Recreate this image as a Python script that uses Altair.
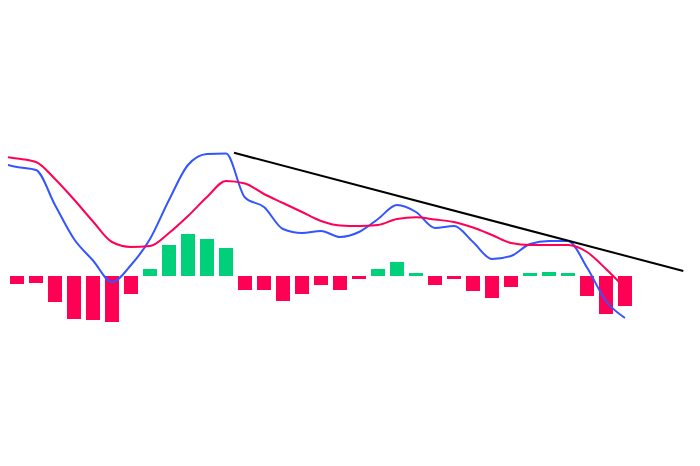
import altair as alt
import pandas as pd

# Histogram (MACD - signal), one value per bar
hist = [-0.06, -0.08, -0.07, -0.26, -0.43, -0.44, -0.46, -0.18, 0.07, 0.31,
        0.42, 0.37, 0.28, -0.14, -0.14, -0.25, -0.18, -0.09, -0.14, -0.03,
        0.07, 0.14, 0.03, -0.09, -0.03, -0.15, -0.22, -0.11, 0.03, 0.04,
        0.03, -0.20, -0.38, -0.30]

# MACD line (blue)
macd = [1.135, 1.09, 1.06, 0.71, 0.37, 0.155, -0.06, 0.11, 0.37, 0.76,
        1.11, 1.22, 1.225, 0.785, 0.69, 0.47, 0.43, 0.45, 0.39, 0.44,
        0.57, 0.71, 0.64, 0.48, 0.50, 0.34, 0.17, 0.20, 0.32, 0.35,
        0.35, 0.085, -0.25, -0.42]

# Signal line (red)
signal = [1.20, 1.175, 1.14, 0.97, 0.765, 0.545, 0.34, 0.29, 0.30, 0.43,
          0.60, 0.79, 0.95, 0.925, 0.82, 0.73, 0.64, 0.55, 0.505, 0.50,
          0.51, 0.57, 0.587, 0.565, 0.54, 0.485, 0.41, 0.33, 0.31, 0.31,
          0.31, 0.24, 0.07, -0.12]

# Trend line endpoints (index, value)
trend_x = [12.42, 36.07]
trend_y = [1.232, 0.05]

idx = list(range(len(hist)))
bars = pd.DataFrame({"i": idx, "h": hist, "sign": ["pos" if v > 0 else "neg" for v in hist]})
lines = pd.DataFrame({"i": idx * 2, "v": macd + signal,
                      "series": ["MACD"] * len(macd) + ["Signal"] * len(signal)})
trend = pd.DataFrame({"i": trend_x, "v": trend_y})

xscale = alt.Scale(domain=[10 / 19, 694 / 19], nice=False, zero=False, padding=0)
yscale = alt.Scale(domain=[-1.72, 2.68], nice=False, zero=False, padding=0)

bar_layer = alt.Chart(bars).mark_bar(size=14, clip=True).encode(
    x=alt.X("i:Q", scale=xscale, axis=None),
    y=alt.Y("h:Q", scale=yscale, axis=None),
    y2=alt.datum(0),
    color=alt.Color("sign:N", scale=alt.Scale(domain=["pos", "neg"], range=["#00D07A", "#FF0055"]), legend=None),
)

line_layer = alt.Chart(lines).mark_line(strokeWidth=2, clip=True, interpolate="monotone").encode(
    x=alt.X("i:Q", scale=xscale, axis=None),
    y=alt.Y("v:Q", scale=yscale, axis=None),
    stroke=alt.Stroke("series:N", scale=alt.Scale(domain=["MACD", "Signal"], range=["#3355FF", "#FF0055"]), legend=None),
    order=alt.Order("series:N", sort="descending"),
)

trend_layer = alt.Chart(trend).mark_line(strokeWidth=2, color="black", clip=True).encode(
    x=alt.X("i:Q", scale=xscale, axis=None),
    y=alt.Y("v:Q", scale=yscale, axis=None),
)

chart = alt.layer(bar_layer, line_layer, trend_layer).resolve_scale(color="independent").properties(
    width=684, height=440, padding=0
).configure(background="white").configure_view(stroke=None, strokeWidth=0)

chart.save("out.html", embed_options={"renderer": "svg", "actions": False})
